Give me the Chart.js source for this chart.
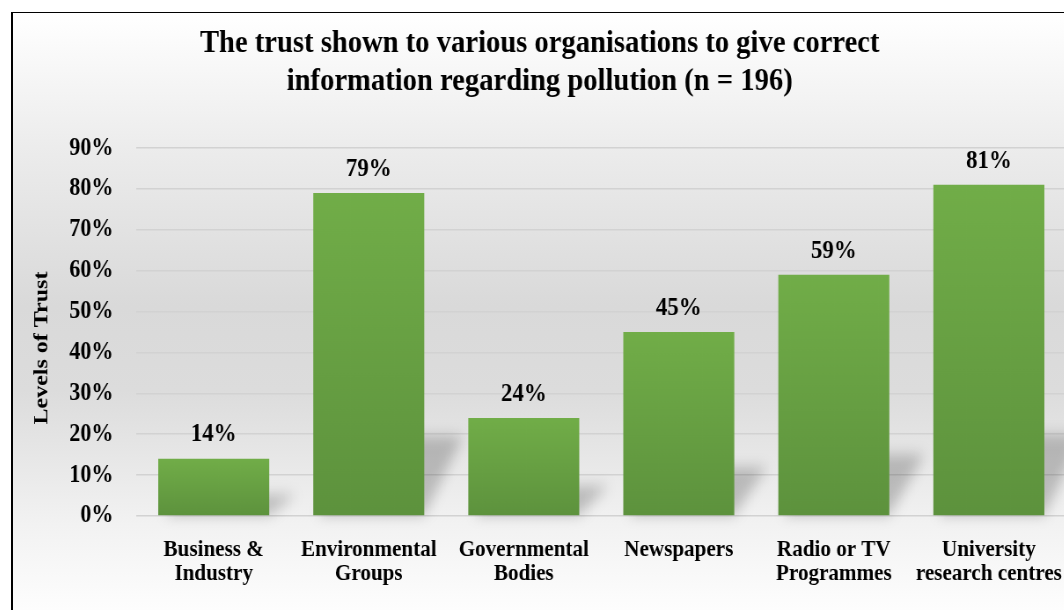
<!DOCTYPE html>
<html>
<head>
<meta charset="utf-8">
<title>Trust in organisations</title>
<script src="https://cdn.jsdelivr.net/npm/chart.js@4.4.1/dist/chart.umd.min.js"></script>
<style>
  html, body { margin: 0; padding: 0; overflow: hidden; background: #fff; }
  #frame {
    position: absolute; left: 11px; top: 12px;
    width: 1070px; height: 610px;
    border-left: 2px solid #000; border-top: 1px solid #000;
    background: linear-gradient(to bottom, #ffffff 0%, #ececec 22%, #d9d9d9 48%, #dcdcdc 62%, #f2f2f2 84%, #ffffff 100%);
    overflow: hidden;
  }
  /* the chart is laid out a little wider and squeezed back, for the narrow Times look */
  #wrap {
    position: absolute; left: 0; top: 0;
    width: 1216px; height: 600px;
    transform: scaleX(0.88); transform-origin: 0 0;
  }
</style>
</head>
<body>
<div id="frame">
  <div id="wrap"><canvas id="trustChart"></canvas></div>
</div>
<script>
// Levels of trust per organisation (%)
const categories = [
  ["Business &", "Industry"],
  ["Environmental", "Groups"],
  ["Governmental", "Bodies"],
  "Newspapers",
  ["Radio or TV", "Programmes"],
  ["University", "research centres"],
];
const trustValues = [14, 79, 24, 45, 59, 81];
const yTicks = [0, 10, 20, 30, 40, 50, 60, 70, 80, 90];

const SERIF = "'Liberation Serif', 'Times New Roman', serif";

// green bar fill, lighter at the top of each bar
function barFill(ctx) {
  const chart = ctx.chart;
  if (!chart.chartArea || ctx.type !== "data") return "#68a044";
  const y = chart.scales.y;
  const top = y.getPixelForValue(ctx.raw);
  const base = y.getPixelForValue(0);
  const g = chart.ctx.createLinearGradient(0, top, 0, base);
  g.addColorStop(0, "#71ad48");
  g.addColorStop(1, "#5d923d");
  return g;
}

// soft slanted shadow behind each bar
const barShadows = {
  id: "barShadows",
  beforeDatasetsDraw(chart) {
    const c = chart.ctx;
    const meta = chart.getDatasetMeta(0);
    c.save();
    c.filter = "blur(7px)";
    c.fillStyle = "rgba(0,0,0,0.21)";
    meta.data.forEach((bar) => {
      const h = bar.base - bar.y;
      const sh = 0.22 * h + 8;
      const dx = 28 + 0.05 * h;
      const left = bar.x - bar.width / 2;
      const right = bar.x + bar.width / 2;
      c.beginPath();
      c.moveTo(left + 6, bar.base);
      c.lineTo(right, bar.base);
      c.lineTo(right + dx, bar.base - sh);
      c.lineTo(left + dx, bar.base - sh);
      c.closePath();
      c.fill();
    });
    c.restore();
  },
};

// percentages above the bars + rotated axis title
const barLabels = {
  id: "barLabels",
  afterDatasetsDraw(chart) {
    const c = chart.ctx;
    const meta = chart.getDatasetMeta(0);
    c.save();
    c.fillStyle = "#000";
    c.textAlign = "center";
    c.textBaseline = "middle";
    c.font = "bold 26px " + SERIF;
    meta.data.forEach((bar, i) => {
      c.fillText(trustValues[i] + "%", bar.x, bar.y - 24);
    });

    const area = chart.chartArea;
    c.font = "bold 24px " + SERIF;
    c.translate(33, (area.top + area.bottom) / 2 + 16);
    c.rotate(-Math.PI / 2);
    c.fillText("Levels of Trust", 0, 0);
    c.restore();
  },
};

new Chart(document.getElementById("trustChart"), {
  type: "bar",
  data: {
    labels: categories,
    datasets: [{
      label: "Levels of Trust",
      data: trustValues,
      backgroundColor: barFill,
      borderWidth: 0,
      barPercentage: 0.716,
      categoryPercentage: 1,
    }],
  },
  options: {
    responsive: true,
    maintainAspectRatio: false,
    animation: false,
    layout: { padding: { left: 0, right: 19, top: 0, bottom: 17 } },
    plugins: {
      legend: { display: false },
      tooltip: { enabled: false },
      title: {
        display: true,
        text: [
          "The trust shown to various organisations to give correct",
          "information regarding pollution (n = 196)",
        ],
        color: "#000",
        font: { family: SERIF, size: 32.5, weight: "bold", lineHeight: 1.17 },
        padding: { top: 12, bottom: 47 },
      },
    },
    scales: {
      x: {
        grid: { display: false },
        border: { display: false },
        ticks: {
          color: "#000",
          padding: 14,
          maxRotation: 0,
          autoSkip: false,
          font: { family: SERIF, size: 24, weight: "bold", lineHeight: 1.0 },
        },
        afterFit(scale) { scale.height = 80; },
      },
      y: {
        min: 0,
        max: 90,
        afterBuildTicks(scale) {
          scale.ticks = yTicks.map((v) => ({ value: v }));
        },
        grid: { color: "#d2d2d2", lineWidth: 1.5, drawTicks: false },
        border: { display: false },
        ticks: {
          color: "#000",
          padding: 26,
          callback: (v) => v + "%",
          font: { family: SERIF, size: 25, weight: "bold" },
        },
        afterFit(scale) { scale.width = 140; },
      },
    },
  },
  plugins: [barShadows, barLabels],
});
</script>
</body>
</html>
